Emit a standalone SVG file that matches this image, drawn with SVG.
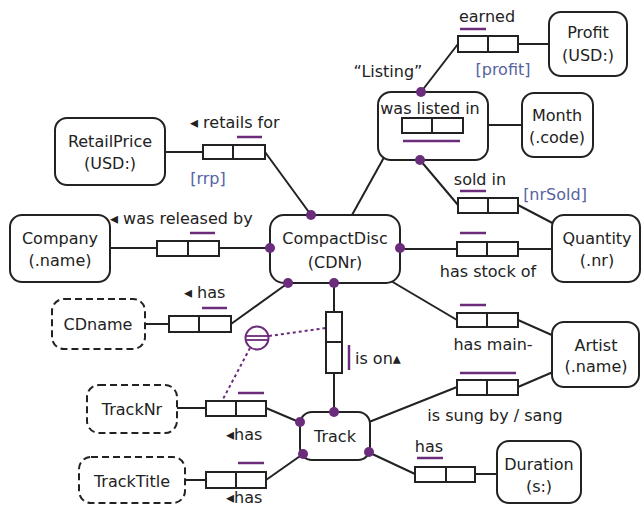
<svg xmlns="http://www.w3.org/2000/svg" width="644" height="507" viewBox="0 0 644 507">
<style>
  .ot { fill: #fff; stroke: #222; stroke-width: 2; }
  .vt { fill: #fff; stroke: #222; stroke-width: 2; stroke-dasharray: 7 4; }
  .role { fill: #fff; stroke: #222; stroke-width: 2; }
  .ln { stroke: #222; stroke-width: 2; fill: none; }
  .uc { stroke: #6b2c7b; stroke-width: 2.5; fill: none; }
  .dot { fill: #6b2c7b; }
  .dash { stroke: #6b2c7b; stroke-width: 2; stroke-dasharray: 3 3; fill: none; }
  text { font-family: "DejaVu Sans", Verdana, sans-serif; font-size: 16px; fill: #222; }
  .c { text-anchor: middle; }
  .blue { fill: #5563a0; }
</style>
<rect width="644" height="507" fill="#fff"/>

<g id="connectors">
  <!-- Listing / earned -->
  <line class="ln" x1="421" y1="92" x2="458" y2="44"/>
  <line class="ln" x1="518" y1="44" x2="549" y2="44"/>
  <!-- was listed in -->
  <line class="ln" x1="352" y1="215" x2="402" y2="125"/>
  <line class="ln" x1="463" y1="125" x2="522" y2="125"/>
  <!-- sold in -->
  <line class="ln" x1="420" y1="160" x2="458" y2="205"/>
  <line class="ln" x1="518" y1="205" x2="562" y2="228"/>
  <!-- retails for -->
  <line class="ln" x1="165" y1="152" x2="203" y2="152"/>
  <line class="ln" x1="265" y1="152" x2="311" y2="215"/>
  <!-- was released by -->
  <line class="ln" x1="110" y1="248" x2="157" y2="248"/>
  <line class="ln" x1="219" y1="248" x2="270" y2="248"/>
  <!-- has stock of -->
  <line class="ln" x1="400" y1="249" x2="457" y2="249"/>
  <line class="ln" x1="518" y1="249" x2="552" y2="249"/>
  <!-- CDname has -->
  <line class="ln" x1="145" y1="324" x2="169" y2="324"/>
  <line class="ln" x1="231" y1="324" x2="288" y2="283"/>
  <!-- has main- -->
  <line class="ln" x1="391" y1="281" x2="457" y2="320"/>
  <line class="ln" x1="518" y1="320" x2="554" y2="336"/>
  <!-- is on -->
  <line class="ln" x1="334" y1="283" x2="334" y2="312"/>
  <line class="ln" x1="334" y1="373" x2="334" y2="412"/>
  <!-- is sung by -->
  <line class="ln" x1="369" y1="422" x2="457" y2="387"/>
  <line class="ln" x1="518" y1="387" x2="553" y2="372"/>
  <!-- TrackNr has -->
  <line class="ln" x1="177" y1="408" x2="206" y2="408"/>
  <line class="ln" x1="266" y1="408" x2="299" y2="422"/>
  <!-- TrackTitle has -->
  <line class="ln" x1="185" y1="480" x2="206" y2="480"/>
  <line class="ln" x1="266" y1="480" x2="303" y2="454"/>
  <!-- Duration has -->
  <line class="ln" x1="368" y1="452" x2="415" y2="474"/>
  <line class="ln" x1="475" y1="474" x2="497" y2="474"/>
  <!-- external uniqueness -->
  <line class="dash" x1="269" y1="336" x2="326" y2="328"/>
  <line class="dash" x1="250" y1="348" x2="222" y2="401"/>
</g>

<g id="Listing">
  <rect class="ot" x="378" y="92" width="110" height="68" rx="13"/>
  <text class="c" x="430" y="114">was listed in</text>
  <rect class="role" x="402" y="118" width="30" height="15"/>
  <rect class="role" x="432" y="118" width="31" height="15"/>
  <line class="uc" x1="403" y1="141" x2="460" y2="141"/>
  <text class="c" x="388" y="77">“Listing”</text>
</g>

<g id="earned">
  <rect class="role" x="458" y="36" width="30" height="16"/>
  <rect class="role" x="488" y="36" width="30" height="16"/>
  <line class="uc" x1="460" y1="29" x2="486" y2="29"/>
  <text class="c" x="487" y="22">earned</text>
  <text class="c blue" x="503" y="75">[profit]</text>
</g>

<g id="Profit">
  <rect class="ot" x="549" y="12" width="78" height="64" rx="12"/>
  <text class="c" x="588" y="38">Profit</text>
  <text class="c" x="588" y="61">(USD:)</text>
</g>

<g id="Month">
  <rect class="ot" x="522" y="93" width="71" height="64" rx="12"/>
  <text class="c" x="557" y="121">Month</text>
  <text class="c" x="557" y="143">(.code)</text>
</g>

<g id="soldin">
  <rect class="role" x="458" y="198" width="30" height="15"/>
  <rect class="role" x="488" y="198" width="30" height="15"/>
  <line class="uc" x1="460" y1="191" x2="486" y2="191"/>
  <text class="c" x="480" y="185">sold in</text>
  <text class="c blue" x="555" y="200">[nrSold]</text>
</g>

<g id="Quantity">
  <rect class="ot" x="552" y="215" width="88" height="67" rx="12"/>
  <text class="c" x="597" y="244">Quantity</text>
  <text class="c" x="597" y="266">(.nr)</text>
</g>

<g id="RetailPrice">
  <rect class="ot" x="55" y="118" width="110" height="67" rx="12"/>
  <text class="c" x="110" y="147">RetailPrice</text>
  <text class="c" x="110" y="169">(USD:)</text>
</g>

<g id="retailsfor">
  <rect class="role" x="203" y="145" width="30" height="14"/>
  <rect class="role" x="233" y="145" width="32" height="14"/>
  <line class="uc" x1="237" y1="137" x2="262" y2="137"/>
  <text x="190" y="128">◂ retails for</text>
  <text class="c blue" x="208" y="184">[rrp]</text>
</g>

<g id="Company">
  <rect class="ot" x="10" y="215" width="100" height="67" rx="12"/>
  <text class="c" x="60" y="244">Company</text>
  <text class="c" x="60" y="266">(.name)</text>
</g>

<g id="releasedby">
  <rect class="role" x="157" y="241" width="31" height="15"/>
  <rect class="role" x="188" y="241" width="31" height="15"/>
  <line class="uc" x1="190" y1="233" x2="215" y2="233"/>
  <text x="110" y="224">◂ was released by</text>
</g>

<g id="CompactDisc">
  <rect class="ot" x="270" y="215" width="130" height="68" rx="14"/>
  <text class="c" x="335" y="244">CompactDisc</text>
  <text class="c" x="335" y="268">(CDNr)</text>
</g>

<g id="hasstockof">
  <rect class="role" x="457" y="242" width="30" height="14"/>
  <rect class="role" x="487" y="242" width="31" height="14"/>
  <line class="uc" x1="460" y1="233" x2="486" y2="233"/>
  <text class="c" x="488" y="277">has stock of</text>
</g>

<g id="CDname">
  <rect class="vt" x="52" y="299" width="93" height="50" rx="12"/>
  <text class="c" x="98" y="330">CDname</text>
</g>

<g id="hasCDname">
  <rect class="role" x="169" y="316" width="30" height="16"/>
  <rect class="role" x="199" y="316" width="32" height="16"/>
  <line class="uc" x1="202" y1="308" x2="227" y2="308"/>
  <text x="184" y="298">◂ has</text>
</g>

<g id="hasmain">
  <rect class="role" x="457" y="313" width="30" height="14"/>
  <rect class="role" x="487" y="313" width="31" height="14"/>
  <line class="uc" x1="460" y1="305" x2="486" y2="305"/>
  <text class="c" x="493" y="350">has main-</text>
</g>

<g id="Artist">
  <rect class="ot" x="552" y="322" width="87" height="65" rx="12"/>
  <text class="c" x="596" y="351">Artist</text>
  <text class="c" x="596" y="372">(.name)</text>
</g>

<g id="ison">
  <rect class="role" x="326" y="312" width="16" height="30"/>
  <rect class="role" x="326" y="342" width="16" height="31"/>
  <line class="uc" x1="349" y1="345" x2="349" y2="370"/>
  <text x="355" y="364">is on▴</text>
</g>

<g id="externalUC">
  <circle cx="257" cy="338" r="11.5" fill="#fff" stroke="#6b2c7b" stroke-width="2"/>
  <line x1="246" y1="336" x2="268" y2="336" stroke="#6b2c7b" stroke-width="1.8"/>
  <line x1="246" y1="340" x2="268" y2="340" stroke="#6b2c7b" stroke-width="1.8"/>
</g>

<g id="issungby">
  <rect class="role" x="457" y="380" width="30" height="15"/>
  <rect class="role" x="487" y="380" width="31" height="15"/>
  <line class="uc" x1="460" y1="373" x2="516" y2="373"/>
  <text class="c" x="495" y="421">is sung by / sang</text>
</g>

<g id="TrackNr">
  <rect class="vt" x="87" y="385" width="90" height="48" rx="12"/>
  <text class="c" x="132" y="415">TrackNr</text>
</g>

<g id="hasTrackNr">
  <rect class="role" x="206" y="401" width="30" height="15"/>
  <rect class="role" x="236" y="401" width="30" height="15"/>
  <line class="uc" x1="238" y1="393" x2="264" y2="393"/>
  <text x="226" y="440">◂has</text>
</g>

<g id="Track">
  <rect class="ot" x="300" y="412" width="70" height="48" rx="12"/>
  <text class="c" x="335" y="442">Track</text>
</g>

<g id="TrackTitle">
  <rect class="vt" x="79" y="457" width="106" height="46" rx="12"/>
  <text class="c" x="132" y="487">TrackTitle</text>
</g>

<g id="hasTrackTitle">
  <rect class="role" x="206" y="472" width="30" height="16"/>
  <rect class="role" x="236" y="472" width="30" height="16"/>
  <line class="uc" x1="238" y1="463" x2="264" y2="463"/>
  <text x="226" y="503">◂has</text>
</g>

<g id="hasDuration">
  <rect class="role" x="415" y="467" width="31" height="15"/>
  <rect class="role" x="446" y="467" width="29" height="15"/>
  <line class="uc" x1="417" y1="458" x2="443" y2="458"/>
  <text class="c" x="429" y="452">has</text>
</g>

<g id="Duration">
  <rect class="ot" x="497" y="441" width="84" height="62" rx="12"/>
  <text class="c" x="539" y="470">Duration</text>
  <text class="c" x="539" y="492">(s:)</text>
</g>

<g id="dots">
  <circle class="dot" cx="421" cy="92" r="5"/>
  <circle class="dot" cx="420" cy="160" r="5"/>
  <circle class="dot" cx="311" cy="215" r="5"/>
  <circle class="dot" cx="270" cy="248" r="5"/>
  <circle class="dot" cx="400" cy="248" r="5"/>
  <circle class="dot" cx="288" cy="283" r="5"/>
  <circle class="dot" cx="334" cy="283" r="5"/>
  <circle class="dot" cx="334" cy="412" r="5"/>
  <circle class="dot" cx="300" cy="422" r="5"/>
  <circle class="dot" cx="303" cy="454" r="5"/>
  <circle class="dot" cx="369" cy="452" r="5"/>
</g>
</svg>
